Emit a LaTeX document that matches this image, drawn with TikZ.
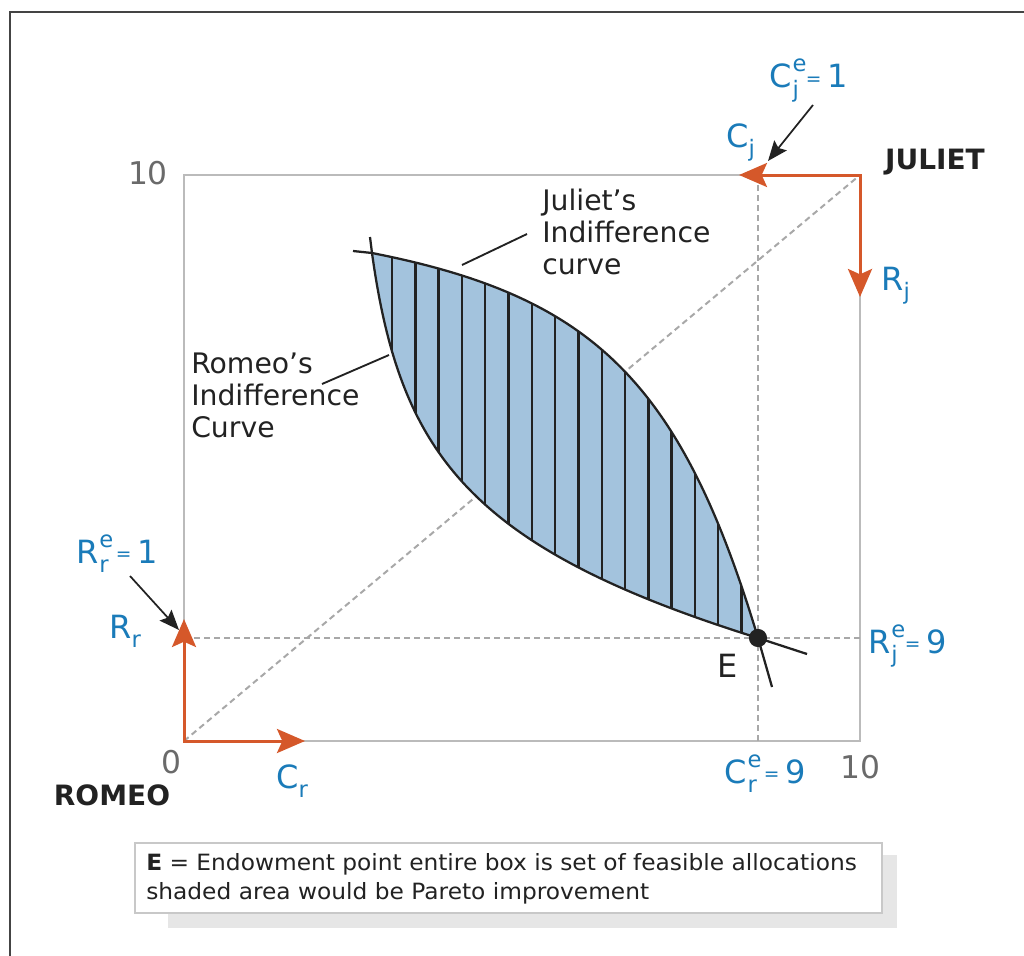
\documentclass[tikz,border=0pt]{standalone}
\usepackage{fontspec}
\setmainfont{DejaVu Sans}
\newfontfamily\legfont[FakeStretch=1.04]{DejaVu Sans}
\usetikzlibrary{arrows.meta}
\definecolor{lblue}{HTML}{1A7BB9}
\definecolor{orng}{HTML}{D5582A}
\definecolor{fillb}{HTML}{A3C3DD}
\definecolor{boxg}{HTML}{BBBBBB}
\definecolor{dashg}{HTML}{A8A8A8}
\definecolor{numg}{HTML}{6A6A6A}
\definecolor{ink}{HTML}{222222}
\definecolor{frameg}{HTML}{444444}
\definecolor{shad}{HTML}{E6E6E6}
\definecolor{legb}{HTML}{C8C8C8}
\newcommand{\scr}{\fontsize{17}{17}\selectfont}
\newcommand{\eqs}{\fontsize{14}{14}\selectfont}
\newcommand{\lblsub}[2]{#1\raisebox{-0.3em}{\scr #2}}
\newcommand{\lbleq}[3]{#1\hspace{0.03em}\makebox[0pt][l]{\raisebox{0.5em}{\scr e}}\raisebox{-0.3em}{\scr #2}\hspace{0.22em}\raisebox{0.08em}{\eqs =}\hspace{0.18em}#3}
\begin{document}
\begin{tikzpicture}[x=0.75pt,y=-0.75pt,
  boxline/.style={draw=boxg,line width=1.5pt},
  guide/.style={draw=dashg,line width=1.5pt,dash pattern=on 4.5pt off 3pt},
  curve/.style={draw=ink,line width=1.7pt},
  axarrow/.style={draw=orng,line width=2.25pt,line join=miter},
  tipo/.tip={Stealth[length=21pt,width=18pt,inset=4pt]},
  note/.style={draw=ink,line width=1.3pt,-{Stealth[length=15pt,width=12pt,inset=2.5pt]}},
  blue/.style={text=lblue,inner sep=0pt,anchor=base west,font=\fontsize{24}{28}\selectfont},
  num/.style={text=numg,inner sep=0pt,font=\fontsize{23.5}{28}\selectfont},
  who/.style={text=ink,inner sep=0pt,font=\fontsize{21}{25}\selectfont\bfseries},
  curvelbl/.style={text=ink,inner sep=0pt,anchor=north west,align=left,font=\fontsize{21.2}{24}\selectfont}
]
\useasboundingbox (0,0) rectangle (1024,956);
% outer frame
\coordinate (fbl) at (10,970);
\coordinate (ftl) at (10,12);
\coordinate (ftr) at (1040,12);
\draw[draw=frameg,line width=1.6pt] (fbl) -- (ftl) -- (ftr);

% Edgeworth box
\coordinate (O) at (184,741);
\coordinate (J) at (860,175);
\coordinate (TL) at (184,175);
\coordinate (BR) at (860,741);
\coordinate (E) at (758,638);
\coordinate (A) at (372,253);
\draw[boxline] (TL) rectangle (BR);

% guides
\coordinate (hL) at (184,638);
\coordinate (hR) at (860,638);
\coordinate (vT) at (758,175);
\coordinate (vB) at (758,741);
\draw[guide] (O) -- (J);
\draw[guide] (hL) -- (hR);
\draw[guide] (vT) -- (vB);

% lens region
\fill[fillb] (A) .. controls (590,296) and (680,378) .. (E) .. controls (470,548) and (400,455) .. (A) -- cycle;
\begin{scope}
  \clip (A) .. controls (590,296) and (680,378) .. (E) .. controls (470,548) and (400,455) .. (A) -- cycle;
  \foreach \k in {0,...,15} {
    \draw[curve,line width=1.8pt] (392+23.3*\k,200) -- (392+23.3*\k,700);
  }
\end{scope}
% indifference curves
\coordinate (jl) at (353,251);
\coordinate (je) at (772,687);
\coordinate (rt) at (370,237);
\coordinate (re) at (807,654);
\draw[curve] (jl) -- (A) .. controls (590,296) and (680,378) .. (E) -- (je);
\draw[curve] (rt) -- (A) .. controls (400,455) and (470,548) .. (E) -- (re);
\fill[ink] (E) circle[radius=6.8pt];

% leaders
\coordinate (jlead1) at (462,265);
\coordinate (jlead2) at (527,234);
\coordinate (rlead1) at (389,355);
\coordinate (rlead2) at (322,384);
\draw[curve,line width=1.4pt] (jlead1) -- (jlead2);
\draw[curve,line width=1.4pt] (rlead1) -- (rlead2);

% axes arrows
\coordinate (Cr) at (305,741);
\coordinate (Rr) at (184,619);
\coordinate (Cj) at (739,175);
\coordinate (Rj) at (860,297);
\draw[axarrow,tipo-tipo] (Cr) -- (O) -- (Rr);
\draw[axarrow,tipo-tipo] (Cj) -- (J) -- (Rj);

% annotation arrows
\coordinate (n1s) at (813,105);
\coordinate (n1e) at (768,161);
\coordinate (n2s) at (130,576);
\coordinate (n2e) at (179,630);
\draw[note] (n1s) -- (n1e);
\draw[note] (n2s) -- (n2e);

% numbers and names
\node[num] (ten1) at (148,173) {10};
\node[num] (zero) at (171,762) {0};
\node[num] (ten2) at (860,767) {10};
\node[who] (romeo) at (112,795) {ROMEO};
\node[who] (juliet) at (935,162) {JULIET};
\node[text=ink,inner sep=0pt,font=\fontsize{24}{28}\selectfont] (Elbl) at (728,666) {E};

% blue labels
\node[blue] (lCje) at (769,88) {\lbleq{C}{j}{1}};
\node[blue] (lCj) at (726,147) {\lblsub{C}{j}};
\node[blue] (lRj) at (881,290) {\lblsub{R}{j}};
\node[blue] (lRje) at (868,653) {\lbleq{R}{j}{9}};
\node[blue] (lCre) at (724,783) {\lbleq{C}{r}{9}};
\node[blue] (lRre) at (76,563) {\lbleq{R}{r}{1}};
\node[blue] (lRr) at (109,638) {\lblsub{R}{r}};
\node[blue] (lCr) at (276,788) {\lblsub{C}{r}};

% curve labels
\node[curvelbl] (julbl) at (542,189) {Juliet’s\\Indifference\\curve};
\node[curvelbl] (rolbl) at (191,353) {Romeo’s\\Indifference\\Curve};

% legend
\coordinate (s1) at (168,855);
\coordinate (s2) at (897,928);
\coordinate (b1) at (135,843);
\coordinate (b2) at (882,913);
\fill[shad] (s1) rectangle (s2);
\draw[fill=white,draw=legb,line width=1.5pt] (b1) rectangle (b2);
\node[anchor=north west,inner sep=0pt,align=left,text=ink,font=\legfont\fontsize{16.8}{21.75}\selectfont] (leg) at (146,853)
  {\textbf{E} = Endowment point entire box is set of feasible allocations\\shaded area would be Pareto improvement};
\end{tikzpicture}
\end{document}
